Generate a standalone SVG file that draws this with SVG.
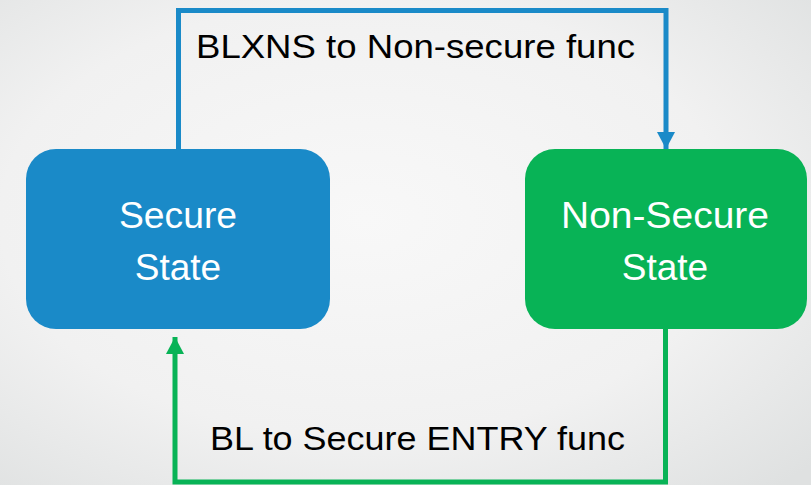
<svg xmlns="http://www.w3.org/2000/svg" width="811" height="485" viewBox="0 0 811 485">
<defs>
<radialGradient id="bg" cx="0.45" cy="0.45" r="0.75">
<stop offset="0" stop-color="#f8f8f8"/>
<stop offset="0.6" stop-color="#f1f1f1"/>
<stop offset="1" stop-color="#dfe1e1"/>
</radialGradient>
<marker id="ab" markerUnits="userSpaceOnUse" markerWidth="18" markerHeight="18" refX="17" refY="9" orient="auto" viewBox="0 0 18 18">
<path d="M0,0 L17,9 L0,18 Z" fill="#1a8ac8"/>
</marker>
<marker id="ag" markerUnits="userSpaceOnUse" markerWidth="18" markerHeight="18" refX="17" refY="9" orient="auto" viewBox="0 0 18 18">
<path d="M0,0 L17,9 L0,18 Z" fill="#08b356"/>
</marker>
</defs>
<style>
.lbl{font-family:"Liberation Sans",Arial,sans-serif;font-size:34px;fill:#000}
.nt{font-family:"Liberation Sans",Arial,sans-serif;font-size:37px;fill:#fff;text-anchor:middle}
.cb{fill:none;stroke:#1a8ac8;stroke-width:5}
.cg{fill:none;stroke:#08b356;stroke-width:5}
</style>
<rect width="811" height="485" fill="url(#bg)"/>
<g id="connectors">
<path class="cb" d="M178.5,150 V10.5 H666 V149" marker-end="url(#ab)"/>
<path class="cg" d="M665.5,329 V482 H175 V337" marker-end="url(#ag)"/>
</g>
<g id="secure">
<rect x="26" y="149" width="304" height="180" rx="30" fill="#1a8ac8"/>
<text class="nt" x="178" y="228" textLength="118" lengthAdjust="spacingAndGlyphs">Secure</text>
<text class="nt" x="178" y="280">State</text>
</g>
<g id="nonsecure">
<rect x="525" y="149" width="282" height="180" rx="30" fill="#08b356"/>
<text class="nt" x="665" y="228" textLength="208" lengthAdjust="spacingAndGlyphs">Non-Secure</text>
<text class="nt" x="665" y="280">State</text>
</g>
<g id="labels">
<text class="lbl" x="196" y="58" textLength="439" lengthAdjust="spacingAndGlyphs">BLXNS to Non-secure func</text>
<text class="lbl" x="210" y="450" textLength="415" lengthAdjust="spacingAndGlyphs">BL to Secure ENTRY func</text>
</g>
</svg>
